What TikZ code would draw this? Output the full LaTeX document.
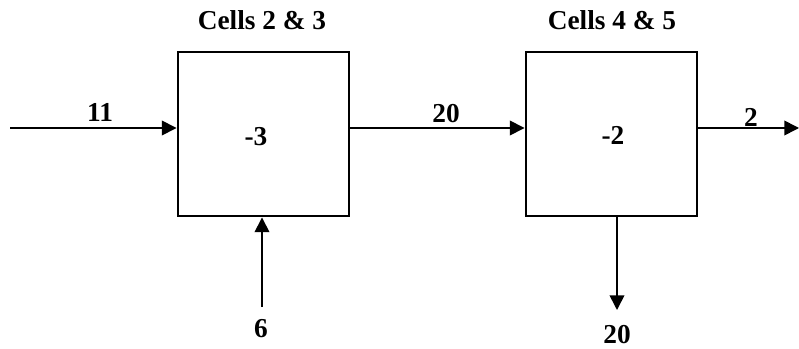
\documentclass[tikz,border=0pt]{standalone}
\usepackage{fontspec}
\setmainfont{Liberation Serif}
\usetikzlibrary{arrows.meta}
\begin{document}
\begin{tikzpicture}[x=0.75pt,y=-0.75pt,
  cell/.style={draw,line width=2.2pt,minimum width=171*0.75pt,minimum height=164*0.75pt,inner sep=0pt},
  flow/.style={line width=1.2pt,-{Triangle[length=11pt,width=11pt]}},
  lbl/.style={font=\bfseries\fontsize{20.5}{24}\selectfont,inner sep=0pt,anchor=base}]
\useasboundingbox (0,0) rectangle (799,349);
\node[cell] (b1) at (263.5,134) {};
\node[cell] (b2) at (611.5,134) {};
\node[lbl] (v1) at (256,146) {-3};
\node[lbl] (v2) at (613,145) {-2};
\node[lbl] (t1) at (262,30) {Cells 2 \& 3};
\node[lbl] (t2) at (612,30) {Cells 4 \& 5};
\coordinate (in) at (10,128);
\coordinate (out) at (799,128);
\coordinate (bot) at (262,307);
\coordinate (dn) at (617,310);
\draw[flow] (in) -- (b1.west|-in);
\draw[flow] (b1.east|-in) -- (b2.west|-in);
\draw[flow] (b2.east|-in) -- (out);
\draw[flow] (bot) -- (bot|-b1.south);
\draw[flow] (dn|-b2.south) -- (dn);
\node[lbl] (l11) at (100,122) {11};
\node[lbl] (l20) at (446,123) {20};
\node[lbl] (l2) at (751,127) {2};
\node[lbl] (l6) at (261,337) {6};
\node[lbl] (l20b) at (617,343) {20};
\end{tikzpicture}
\end{document}
